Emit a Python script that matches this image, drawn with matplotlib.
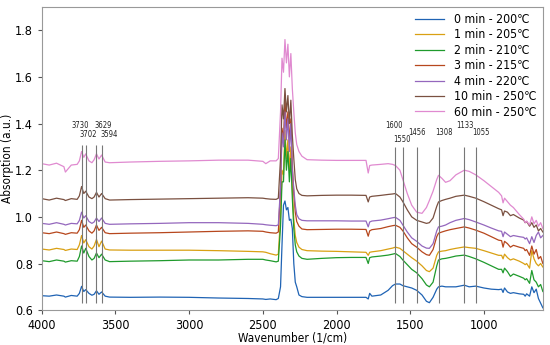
import matplotlib
matplotlib.use("Agg")
import matplotlib.pyplot as plt
import numpy as np

plt.rcParams['font.family'] = 'DejaVu Sans'
plt.rcParams['font.stretch'] = 'condensed'

# wavenumber grid (1/cm) shared by all spectra
wn = [4000, 3950, 3900, 3850, 3840, 3800, 3760, 3745, 3730, 3715, 3702, 3680, 3660, 3645, 3629, 3612, 3594, 3570, 3540,
      3400, 3200, 3000, 2800, 2600, 2500, 2480, 2450, 2410, 2395,
      2380, 2370, 2360, 2350, 2340, 2330, 2320, 2310, 2300, 2290, 2280, 2270, 2255, 2235, 2200,
      2100, 2000, 1900, 1800, 1785, 1775, 1760, 1700, 1650, 1620, 1600,
      1570, 1550, 1520, 1490, 1456, 1420, 1390, 1370, 1345, 1320, 1308, 1285, 1260, 1230, 1190, 1133, 1100, 1055, 1000, 950, 900,
      880, 870, 860, 840, 820, 800, 760, 730, 720, 710, 690, 675, 660, 645, 630, 615, 600]

a_0min = [0.662, 0.660, 0.665, 0.660, 0.656, 0.663, 0.660, 0.672, 0.702, 0.680, 0.688, 0.672, 0.664, 0.668, 0.683, 0.668, 0.678, 0.660, 0.656,
          0.655, 0.656, 0.655, 0.652, 0.650, 0.648, 0.646, 0.648, 0.645, 0.650,
          0.700, 0.880, 1.050, 1.068, 1.030, 1.040, 0.985, 0.990, 0.950, 0.800, 0.720, 0.700, 0.665, 0.658, 0.655,
          0.655, 0.655, 0.655, 0.655, 0.648, 0.672, 0.660, 0.665, 0.685, 0.705, 0.712,
          0.712, 0.705, 0.700, 0.695, 0.685, 0.665, 0.638, 0.632, 0.655, 0.690, 0.700, 0.703, 0.700, 0.700, 0.700, 0.707, 0.700, 0.703, 0.695, 0.690, 0.688,
          0.690, 0.676, 0.695, 0.678, 0.672, 0.675, 0.670, 0.668, 0.660, 0.670, 0.660, 0.700, 0.675, 0.690, 0.650, 0.630, 0.610]

a_1min = [0.862, 0.858, 0.865, 0.860, 0.856, 0.862, 0.860, 0.880, 0.920, 0.888, 0.902, 0.872, 0.862, 0.875, 0.903, 0.872, 0.896, 0.862, 0.858,
          0.857, 0.857, 0.857, 0.855, 0.852, 0.850, 0.848, 0.842, 0.836, 0.840,
          1.000, 1.200, 1.180, 1.370, 1.250, 1.330, 1.200, 1.300, 1.120, 0.990, 0.920, 0.890, 0.870, 0.860, 0.855,
          0.853, 0.852, 0.850, 0.848, 0.835, 0.848, 0.850, 0.855, 0.862, 0.866, 0.870,
          0.865, 0.855, 0.840, 0.825, 0.810, 0.790, 0.770, 0.765, 0.780, 0.835, 0.850, 0.853, 0.855, 0.860, 0.865, 0.871, 0.868, 0.865, 0.855, 0.845, 0.835,
          0.835, 0.820, 0.840, 0.825, 0.815, 0.820, 0.810, 0.800, 0.795, 0.800, 0.780, 0.855, 0.820, 0.800, 0.790, 0.800, 0.785]

a_2min = [0.812, 0.808, 0.815, 0.810, 0.806, 0.812, 0.810, 0.830, 0.875, 0.845, 0.865, 0.830, 0.815, 0.822, 0.845, 0.825, 0.840, 0.815, 0.808,
          0.810, 0.812, 0.815, 0.815, 0.818, 0.818, 0.815, 0.812, 0.807, 0.810,
          0.960, 1.150, 1.150, 1.330, 1.200, 1.280, 1.150, 1.250, 1.080, 0.950, 0.880, 0.850, 0.832, 0.822, 0.818,
          0.822, 0.825, 0.826, 0.826, 0.800, 0.825, 0.828, 0.832, 0.836, 0.840, 0.843,
          0.830, 0.815, 0.795, 0.775, 0.760, 0.735, 0.708, 0.700, 0.720, 0.790, 0.815, 0.820, 0.822, 0.826, 0.832, 0.836, 0.830, 0.820, 0.805, 0.790, 0.775,
          0.775, 0.760, 0.780, 0.765, 0.745, 0.755, 0.745, 0.737, 0.730, 0.735, 0.715, 0.770, 0.730, 0.720, 0.700, 0.710, 0.680]

a_3min = [0.932, 0.928, 0.935, 0.928, 0.925, 0.932, 0.930, 0.945, 0.985, 0.955, 0.965, 0.940, 0.930, 0.940, 0.965, 0.942, 0.955, 0.932, 0.928,
          0.930, 0.932, 0.935, 0.938, 0.940, 0.938, 0.935, 0.932, 0.930, 0.935,
          1.120, 1.380, 1.330, 1.500, 1.380, 1.450, 1.320, 1.420, 1.220, 1.100, 1.020, 0.980, 0.960, 0.948, 0.945,
          0.946, 0.947, 0.947, 0.946, 0.917, 0.940, 0.945, 0.950, 0.958, 0.962, 0.964,
          0.955, 0.940, 0.910, 0.885, 0.870, 0.850, 0.838, 0.835, 0.860, 0.915, 0.930, 0.935, 0.940, 0.945, 0.950, 0.957, 0.952, 0.943, 0.930, 0.915, 0.900,
          0.898, 0.870, 0.895, 0.885, 0.870, 0.878, 0.870, 0.865, 0.855, 0.860, 0.835, 0.875, 0.840, 0.860, 0.820, 0.830, 0.800]

a_4min = [0.972, 0.968, 0.975, 0.968, 0.965, 0.972, 0.970, 0.985, 1.020, 0.995, 1.005, 0.980, 0.972, 0.978, 0.995, 0.980, 0.995, 0.972, 0.968,
          0.970, 0.972, 0.975, 0.975, 0.972, 0.968, 0.966, 0.964, 0.962, 0.966,
          1.130, 1.360, 1.300, 1.450, 1.330, 1.420, 1.280, 1.400, 1.200, 1.120, 1.050, 1.010, 0.992, 0.985, 0.983,
          0.983, 0.983, 0.982, 0.982, 0.957, 0.978, 0.982, 0.986, 0.992, 0.996, 0.998,
          0.985, 0.965, 0.935, 0.910, 0.895, 0.875, 0.866, 0.865, 0.885, 0.940, 0.957, 0.960, 0.965, 0.975, 0.985, 0.993, 0.988, 0.978, 0.965, 0.952, 0.940,
          0.938, 0.915, 0.935, 0.925, 0.915, 0.920, 0.915, 0.912, 0.905, 0.910, 0.885, 0.915, 0.890, 0.920, 0.935, 0.910, 0.920]

a_10min = [1.078, 1.072, 1.080, 1.074, 1.070, 1.078, 1.075, 1.090, 1.130, 1.100, 1.110, 1.085, 1.078, 1.085, 1.105, 1.085, 1.100, 1.078, 1.072,
           1.074, 1.076, 1.078, 1.080, 1.082, 1.080, 1.078, 1.076, 1.075, 1.080,
           1.250, 1.480, 1.420, 1.550, 1.450, 1.520, 1.400, 1.500, 1.350, 1.250, 1.160, 1.120, 1.100, 1.092, 1.090,
           1.092, 1.093, 1.093, 1.092, 1.064, 1.085, 1.088, 1.092, 1.096, 1.098, 1.100,
           1.085, 1.065, 1.030, 1.000, 0.985, 0.978, 0.972, 0.975, 0.995, 1.045, 1.064, 1.070, 1.075, 1.080, 1.088, 1.093, 1.088, 1.080, 1.065, 1.050, 1.035,
           1.030, 1.005, 1.025, 1.020, 1.005, 1.010, 0.995, 0.986, 0.975, 0.980, 0.960, 0.975, 0.955, 0.965, 0.940, 0.950, 0.935]

a_60min = [1.228, 1.222, 1.230, 1.215, 1.192, 1.222, 1.225, 1.240, 1.280, 1.255, 1.270, 1.240, 1.232, 1.245, 1.270, 1.248, 1.265, 1.235, 1.232,
           1.235, 1.238, 1.240, 1.243, 1.243, 1.238, 1.228, 1.240, 1.240, 1.250,
           1.450, 1.680, 1.620, 1.760, 1.660, 1.740, 1.600, 1.700, 1.550, 1.450, 1.360, 1.310, 1.280, 1.260, 1.245,
           1.243, 1.242, 1.242, 1.242, 1.188, 1.220, 1.222, 1.225, 1.228, 1.225, 1.220,
           1.200, 1.160, 1.100, 1.050, 1.020, 1.015, 1.040, 1.070, 1.110, 1.160, 1.178, 1.165, 1.148, 1.155, 1.180, 1.200, 1.195, 1.180, 1.155, 1.130, 1.105,
           1.090, 1.060, 1.080, 1.065, 1.050, 1.040, 1.010, 0.990, 0.975, 0.982, 0.965, 1.000, 0.970, 0.985, 0.960, 0.975, 0.950]

labels = ['0 min - 200\u2103', '1 min - 205\u2103', '2 min - 210\u2103', '3 min - 215\u2103',
          '4 min - 220\u2103', '10 min - 250\u2103', '60 min - 250\u2103']
colors = ['#1f63b4', '#d9a013', '#1f9a2c', '#b7471d', '#9467bd', '#7a5040', '#e08ad0']

peaks_oh = [3730, 3702, 3629, 3594]
peaks_fp = [1600, 1550, 1456, 1308, 1133, 1055]

fig = plt.figure(figsize=(5.5, 3.45), dpi=100)
ax = fig.add_axes([0.076, 0.101, 0.911, 0.879])

series = [a_0min, a_1min, a_2min, a_3min, a_4min, a_10min, a_60min]
for y, lab, c in zip(series, labels, colors):
    ax.plot(wn, y, color=c, lw=0.9, label=lab)

# marker lines for assigned bands
ax.vlines(peaks_oh, 0.63, 1.31, color='#777777', lw=0.8)
ax.vlines(peaks_fp, 0.63, 1.30, color='#777777', lw=0.8)

# label positions (x in 1/cm, y in a.u.)
oh_txt = [(3741, 1.39), (3685, 1.355), (3583, 1.39), (3542, 1.355)]
fp_txt = [(1612, 1.39), (1556, 1.33), (1454, 1.36), (1273, 1.36), (1127, 1.39), (1020, 1.36)]
for p, (tx, ty) in zip(peaks_oh, oh_txt):
    ax.text(tx, ty, str(p), fontsize=5.5, ha='center', va='center', color='#222222')
for p, (tx, ty) in zip(peaks_fp, fp_txt):
    ax.text(tx, ty, str(p), fontsize=5.5, ha='center', va='center', color='#222222')

ax.set_xlim(4000, 600)
ax.set_ylim(0.6, 1.9)
ax.set_xticks([4000, 3500, 3000, 2500, 2000, 1500, 1000])
ax.set_yticks([0.6, 0.8, 1.0, 1.2, 1.4, 1.6, 1.8])
ax.tick_params(labelsize=9, length=3, color='#555555')
for s in ax.spines.values():
    s.set_color('#999999')
ax.set_xlabel('Wavenumber (1/cm)', fontsize=8.5)
ax.set_ylabel('Absorption (a.u.)', fontsize=8.5)
ax.xaxis.set_label_coords(0.5, -0.072)
ax.yaxis.set_label_coords(-0.055, 0.5)

ax.legend(loc='upper right', frameon=False, fontsize=8.8, handlelength=2.4,
          handletextpad=0.8, labelspacing=0.2, borderaxespad=0.1)

fig.savefig('out.png', dpi=100)
